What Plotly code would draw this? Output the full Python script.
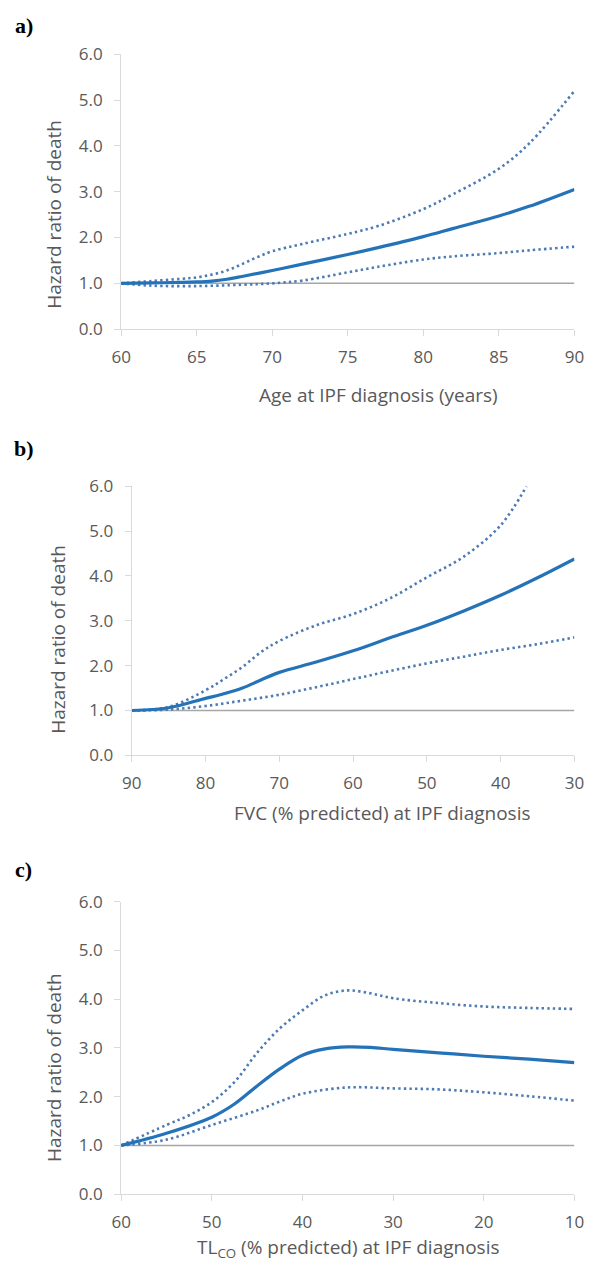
import plotly.graph_objects as go

W, H = 596, 1273

# ---- Panel a: Age at IPF diagnosis ----
age_x = [60, 62, 64, 65, 66, 67, 68, 70, 72, 75, 77, 80, 82, 85, 87, 90]
age_hr = [1.00, 1.01, 1.02, 1.03, 1.05, 1.09, 1.15, 1.28, 1.42, 1.63, 1.78, 2.02, 2.20, 2.47, 2.68, 3.05]
age_up_x = [60, 62, 64, 65, 66, 67, 68, 69, 70, 72, 75, 77, 80, 82, 85, 87, 90]
age_up = [1.00, 1.05, 1.10, 1.13, 1.19, 1.28, 1.42, 1.57, 1.70, 1.86, 2.08, 2.25, 2.62, 2.95, 3.50, 4.05, 5.20]
age_lo_x = [60, 62, 65, 68, 70, 72, 75, 77, 80, 82, 85, 87, 90]
age_lo = [1.00, 0.95, 0.94, 0.97, 1.00, 1.06, 1.24, 1.36, 1.52, 1.59, 1.66, 1.72, 1.80]

# ---- Panel b: FVC % predicted ----
fvc_x = [90, 85, 80, 78, 75, 72.5, 70, 65, 60, 55, 50, 45, 40, 35, 30]
fvc_hr = [1.00, 1.06, 1.27, 1.35, 1.50, 1.68, 1.85, 2.08, 2.33, 2.62, 2.90, 3.22, 3.57, 3.96, 4.38]
fvc_up_x = [90, 85, 80, 77.5, 75, 72.5, 70, 65, 60, 55, 50, 45, 40, 36.5]
fvc_up = [1.00, 1.08, 1.45, 1.70, 1.97, 2.30, 2.55, 2.90, 3.15, 3.50, 3.97, 4.43, 5.13, 6.00]
fvc_lo_x = [90, 85, 80, 75, 70, 65, 60, 55, 50, 45, 40, 35, 30]
fvc_lo = [1.00, 1.02, 1.10, 1.22, 1.35, 1.52, 1.70, 1.88, 2.05, 2.20, 2.35, 2.48, 2.63]

# ---- Panel c: TLCO % predicted ----
tl_x = [60, 55, 50, 47.5, 45, 42.5, 40, 37.5, 35, 32.5, 30, 25, 20, 15, 10]
tl_hr = [1.00, 1.25, 1.58, 1.85, 2.22, 2.57, 2.85, 2.98, 3.02, 3.01, 2.97, 2.90, 2.83, 2.77, 2.70]
tl_up_x = [60, 55, 52.5, 50, 47.5, 45, 42.5, 40, 37.5, 35, 32.5, 30, 25, 20, 15, 10]
tl_up = [1.00, 1.42, 1.62, 1.89, 2.30, 2.90, 3.40, 3.77, 4.08, 4.18, 4.12, 4.02, 3.92, 3.85, 3.82, 3.80]
tl_lo_x = [60, 55, 50, 45, 42.5, 40, 35, 30, 25, 20, 15, 10]
tl_lo = [1.00, 1.12, 1.42, 1.72, 1.90, 2.06, 2.19, 2.17, 2.15, 2.09, 2.01, 1.92]

y_ticks = [0, 1, 2, 3, 4, 5, 6]
age_ticks = [60, 65, 70, 75, 80, 85, 90]
fvc_ticks = [90, 80, 70, 60, 50, 40, 30]
tl_ticks = [60, 50, 40, 30, 20, 10]

SOLID = "#2473B9"
DOT = "#4C7AB4"
BASE = "#A6A6A6"
AXIS = "#D9D9D9"
TXT = "#595959"
FONT = "Open Sans"

fig = go.Figure()

panels = [
    ("x", "y", [60, 90], age_x, age_hr, age_up_x, age_up, age_lo_x, age_lo),
    ("x2", "y2", [90, 30], fvc_x, fvc_hr, fvc_up_x, fvc_up, fvc_lo_x, fvc_lo),
    ("x3", "y3", [60, 10], tl_x, tl_hr, tl_up_x, tl_up, tl_lo_x, tl_lo),
]

for xa, ya, rng, xs, hr, uxs, up, lxs, lo in panels:
    fig.add_trace(go.Scatter(x=rng, y=[1, 1], mode="lines", xaxis=xa, yaxis=ya,
                             line=dict(color=BASE, width=1.5), hoverinfo="skip"))
    fig.add_trace(go.Scatter(x=uxs, y=up, mode="lines", xaxis=xa, yaxis=ya,
                             line=dict(color=DOT, width=2.6, dash="2.4px,3.2px", shape="spline")))
    fig.add_trace(go.Scatter(x=lxs, y=lo, mode="lines", xaxis=xa, yaxis=ya,
                             line=dict(color=DOT, width=2.6, dash="2.4px,3.2px", shape="spline")))
    fig.add_trace(go.Scatter(x=xs, y=hr, mode="lines", xaxis=xa, yaxis=ya,
                             line=dict(color=SOLID, width=3.2, shape="spline")))

def xax(domain, rng, ticks, anchor):
    return dict(domain=domain, range=rng, tickvals=ticks, anchor=anchor,
                showline=True, linecolor=AXIS, linewidth=1.2, ticks="outside",
                ticklen=6, tickcolor=AXIS, tickwidth=1.2, showgrid=False, zeroline=False,
                ticklabelstandoff=6, ticklabeloverflow="allow",
                tickfont=dict(family=FONT, size=17, color=TXT))

def yax(domain, anchor):
    return dict(domain=domain, range=[0, 6], tickvals=y_ticks, tickformat=".1f", anchor=anchor,
                showline=True, linecolor=AXIS, linewidth=1.2, ticks="outside",
                ticklen=6, tickcolor=AXIS, tickwidth=1.2, showgrid=False, zeroline=False,
                ticklabelstandoff=8,
                tickfont=dict(family=FONT, size=17, color=TXT))

xa_dom = [115 / W, 584 / W]
xb_dom = [126 / W, 584 / W]
ya_dom = [1 - 323 / H, 1 - 43 / H]
yb_dom = [1 - 757 / H, 1 - 483 / H]
yc_dom = [1 - 1204 / H, 1 - 906 / H]

ann = []
def txt(x, y, s, size=19, angle=0, family=FONT, color=TXT):
    ann.append(dict(x=x / W, y=1 - y / H, xref="paper", yref="paper", text=s,
                    showarrow=False, textangle=angle, xanchor="center", yanchor="middle",
                    font=dict(family=family, size=size, color=color)))

txt(381, 390, "Age at IPF diagnosis (years)")
txt(385, 816, "FVC (% predicted) at IPF diagnosis")
txt(350, 1259, "TL<sub>CO</sub> (% predicted) at IPF diagnosis")
txt(46, 206, "Hazard ratio of death", angle=-90)
txt(50, 639, "Hazard ratio of death", angle=-90)
txt(45, 1075, "Hazard ratio of death", angle=-90)
txt(14, 14, "<b>a)</b>", size=22, family="Liberation Serif", color="#000000")
txt(15, 445, "<b>b)</b>", size=22, family="Liberation Serif", color="#000000")
txt(14, 873, "<b>c)</b>", size=22, family="Liberation Serif", color="#000000")

fig.update_layout(
    width=W, height=H, margin=dict(l=0, r=0, t=0, b=0),
    paper_bgcolor="white", plot_bgcolor="white", showlegend=False,
    xaxis=xax(xa_dom, [60, 90], age_ticks, "y"),
    yaxis=yax(ya_dom, "x"),
    xaxis2=xax(xb_dom, [90, 30], fvc_ticks, "y2"),
    yaxis2=yax(yb_dom, "x2"),
    xaxis3=xax(xa_dom, [60, 10], tl_ticks, "y3"),
    yaxis3=yax(yc_dom, "x3"),
    annotations=ann,
)

fig.write_html("out.html", config={"displayModeBar": False},
               post_script="document.body.style.margin='0px';")
